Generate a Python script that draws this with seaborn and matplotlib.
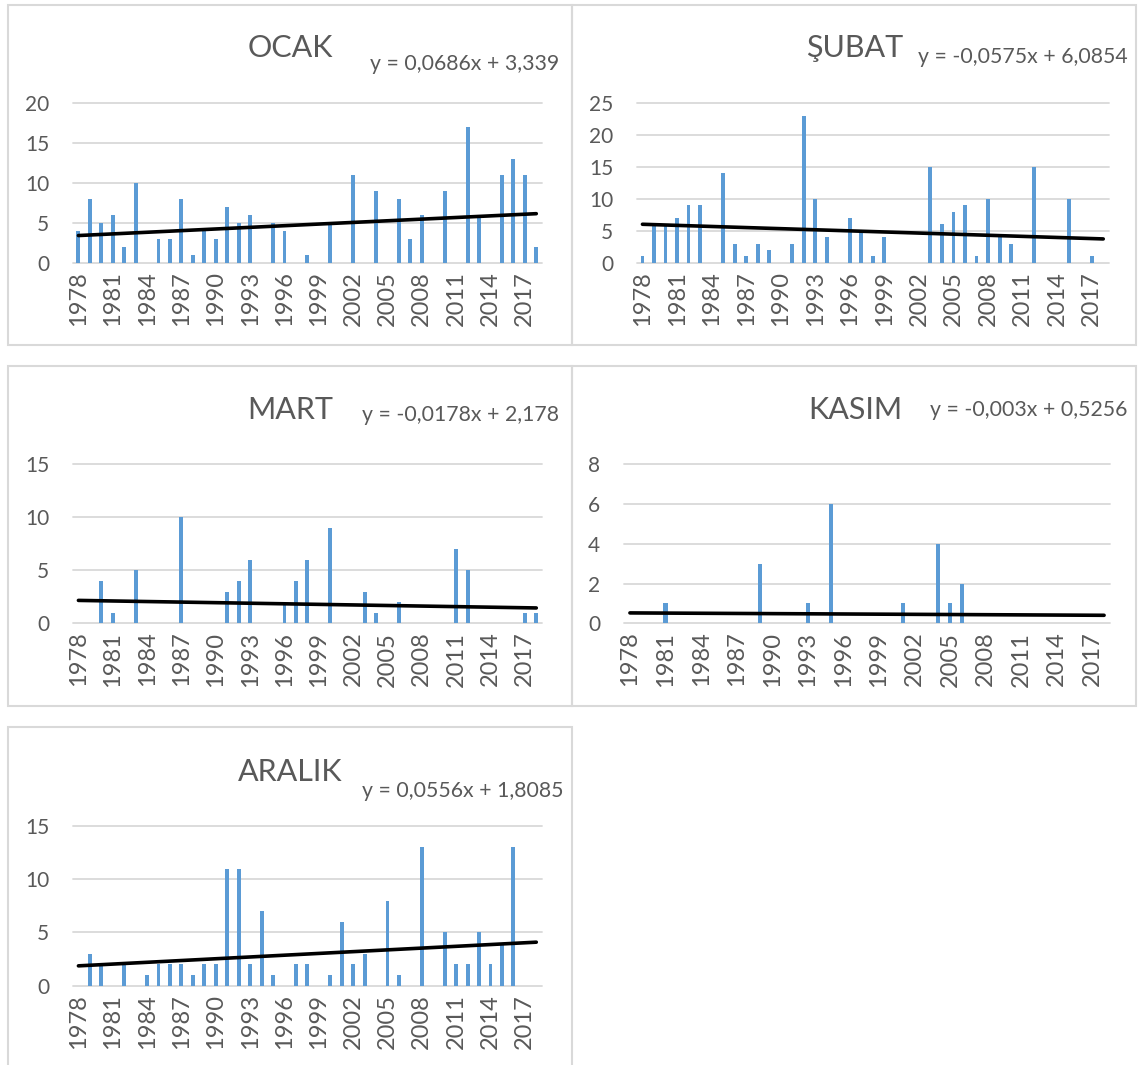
import numpy as np
import pandas as pd
import matplotlib
matplotlib.use("Agg")
import matplotlib.pyplot as plt
import seaborn as sns
from matplotlib.patches import Rectangle

# ---------------- data ----------------
years = list(range(1978, 2019))
ocak = [4, 8, 5, 6, 2, 10, 0, 3, 3, 8, 1, 4, 3, 7, 5, 6, 0, 5, 4, 0, 1,
        0, 5, 0, 11, 0, 9, 0, 8, 3, 6, 0, 9, 0, 17, 6, 0, 11, 13, 11, 2]
subat = [1, 6, 6, 7, 9, 9, 0, 14, 3, 1, 3, 2, 0, 3, 23, 10, 4, 0, 7, 5, 1,
         4, 0, 0, 0, 15, 6, 8, 9, 1, 10, 4, 3, 0, 15, 0, 0, 10, 0, 1, 0]
mart = [0, 0, 4, 1, 0, 5, 0, 0, 0, 10, 0, 0, 0, 3, 4, 6, 0, 0, 2, 4, 6,
        0, 9, 0, 0, 3, 1, 0, 2, 0, 0, 0, 0, 7, 5, 0, 0, 0, 0, 1, 1]
kasim = [0, 0, 0, 1, 0, 0, 0, 0, 0, 0, 0, 3, 0, 0, 0, 1, 0, 6, 0, 0, 0,
         0, 0, 1, 0, 0, 4, 1, 2, 0, 0, 0, 0, 0, 0, 0, 0, 0, 0, 0, 0]
aralik = [0, 3, 2, 0, 2, 0, 1, 2, 2, 2, 1, 2, 2, 11, 11, 2, 7, 1, 0, 2, 2,
          0, 1, 6, 2, 3, 0, 8, 1, 0, 13, 0, 5, 2, 2, 5, 2, 4, 13, 0, 0]

titles = ["OCAK", "ŞUBAT", "MART", "KASIM", "ARALIK"]
slopes = [0.0686, -0.0575, -0.0178, -0.003, 0.0556]
intercepts = [3.339, 6.0854, 2.178, 0.5256, 1.8085]
ymaxes = [20, 25, 15, 8, 15]
ysteps = [5, 5, 5, 2, 5]
series = [ocak, subat, mart, kasim, aralik]

# ---------------- style ----------------
sns.set_theme(style="white")
plt.rcParams["font.family"] = ["Lato", "DejaVu Sans"]

W, H = 1138, 1065
fig = plt.figure(figsize=(W / 100, H / 100), dpi=100)

BAR = "#5B9BD5"
TXT = "#595959"
GRID = "#D9D9D9"

def frac_rect(l, r, top, bottom):
    return [l / W, 1 - bottom / H, (r - l) / W, (bottom - top) / H]

# panel boxes (pixel coords: left, right, top, bottom)
boxes = [(8, 572, 5, 345), (572, 1136, 5, 345), (8, 572, 366, 706),
         (572, 1136, 366, 706), (8, 572, 727, 1068)]
for (l, r, t, b) in boxes:
    fig.patches.append(Rectangle((l / W, 1 - b / H), (r - l) / W, (b - t) / H,
                                 transform=fig.transFigure, fill=False,
                                 edgecolor=GRID, linewidth=1.5, zorder=0))

axes_px = [(72.7, 542, 103.3, 262.7), (636.7, 1109, 103.3, 262.7),
           (72.7, 542, 464.3, 623.3), (624, 1110, 464.3, 623.3),
           (72.7, 542, 826, 985.7)]
title_pos = [(290, 48), (855, 48), (290, 410), (855, 410), (290, 772)]
eq_pos = [(370, 64), (918, 57), (362, 415), (930, 410), (362, 791)]

for i in range(5):
    ax = fig.add_axes(frac_rect(*axes_px[i]))
    df = pd.DataFrame({"year": [str(y) for y in years], "value": series[i]})
    sns.barplot(data=df, x="year", y="value", ax=ax, color=BAR, width=0.34,
                saturation=1, linewidth=0, zorder=2)
    idx = np.arange(len(years))
    trend = slopes[i] * (idx + 1) + intercepts[i]
    ax.plot(idx, trend, color="black", linewidth=2.6, zorder=3,
            solid_capstyle="round")
    ax.set_xlim(-0.5, len(years) - 0.5)
    ax.set_ylim(0, ymaxes[i])
    ax.set_yticks(np.arange(0, ymaxes[i] + 1, ysteps[i]))
    ax.set_xticks(idx[::3])
    ax.set_xticklabels([str(y) for y in years[::3]], rotation=90)
    ax.set_xlabel("")
    ax.set_ylabel("")
    for s in ax.spines.values():
        s.set_visible(False)
    ax.yaxis.grid(True, color=GRID, linewidth=1.3, zorder=0)
    ax.xaxis.grid(False)
    ax.set_axisbelow(True)
    for gl in ax.get_ygridlines():
        gl.set_clip_on(False)
    ax.tick_params(axis="y", length=0, pad=17, labelsize=15, labelcolor=TXT)
    ax.tick_params(axis="x", length=0, pad=6, labelsize=17, labelcolor=TXT)
    ax.patch.set_alpha(0)

    tx, ty = title_pos[i]
    fig.text(tx / W, 1 - ty / H, titles[i], ha="center", va="center",
             fontsize=22, color=TXT)
    ex, ey = eq_pos[i]
    eq = f"y = {slopes[i]}x + {intercepts[i]}".replace(".", ",")
    fig.text(ex / W, 1 - ey / H, eq, ha="left", va="center",
             fontsize=15.3, color=TXT)

fig.savefig("out.png", dpi=100)
